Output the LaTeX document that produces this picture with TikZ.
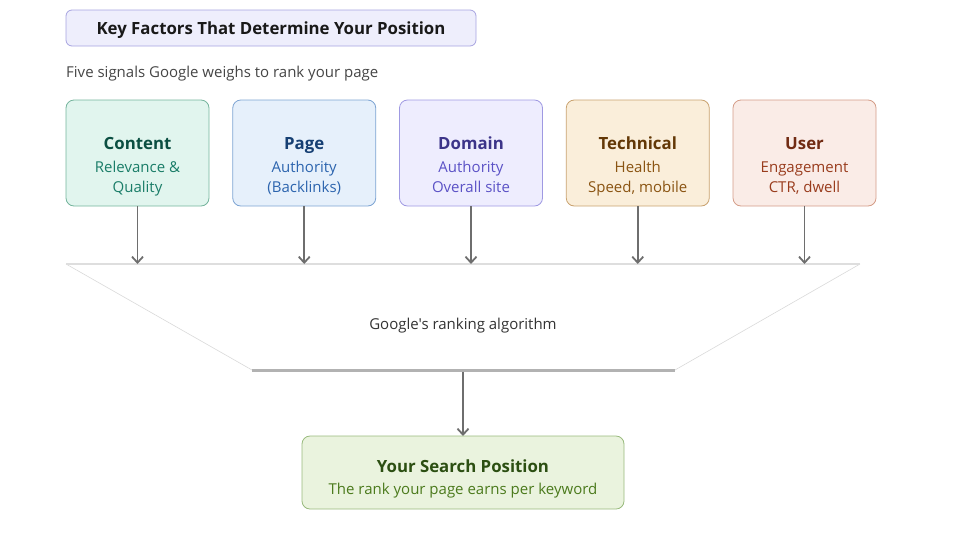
\documentclass[tikz,border=0pt]{standalone}
\usepackage{fontspec}
\setmainfont{Open Sans}[Ligatures=TeXOff]
\usetikzlibrary{positioning,arrows.meta}
\definecolor{titlefill}{HTML}{EEEEFC}
\definecolor{titledraw}{HTML}{A7A3E0}
\definecolor{arrgray}{HTML}{6E6E6E}
\definecolor{contentfill}{HTML}{E1F5EE}
\definecolor{contentdraw}{HTML}{74B49C}
\definecolor{contenthead}{HTML}{0B4F42}
\definecolor{contentsub}{HTML}{1A7D68}
\definecolor{pagefill}{HTML}{E6F0FB}
\definecolor{pagedraw}{HTML}{7DA4D3}
\definecolor{pagehead}{HTML}{163F73}
\definecolor{pagesub}{HTML}{2C64AE}
\definecolor{domainfill}{HTML}{EEEDFE}
\definecolor{domaindraw}{HTML}{9F99E2}
\definecolor{domainhead}{HTML}{3C3489}
\definecolor{domainsub}{HTML}{5B52C6}
\definecolor{techfill}{HTML}{FAEEDA}
\definecolor{techdraw}{HTML}{C9A26F}
\definecolor{techhead}{HTML}{633806}
\definecolor{techsub}{HTML}{8A5412}
\definecolor{userfill}{HTML}{FAECE7}
\definecolor{userdraw}{HTML}{D49C87}
\definecolor{userhead}{HTML}{712B13}
\definecolor{usersub}{HTML}{993C1D}
\definecolor{resultfill}{HTML}{EAF3DE}
\definecolor{resultdraw}{HTML}{98BA7C}
\definecolor{resulthead}{HTML}{2C4F12}
\definecolor{resultsub}{HTML}{4B7A1C}

\begin{document}
\begin{tikzpicture}[x=1pt, y=-1pt,
    box/.style={draw, rounded corners=8pt, minimum width=143pt, minimum height=106pt, line width=0.8pt, outer sep=0pt},
    head/.style={inner sep=0pt, text height=12pt, text depth=0pt, font=\fontsize{16.8}{20}\selectfont\bfseries},
    sub/.style={inner sep=0pt, align=center, font=\fontsize{15}{20}\selectfont},
    arr/.style={draw=arrgray, line width=1.8pt, -{Straight Barb[length=6pt,width=11pt]}}]
    \useasboundingbox (0,0) rectangle (974,555);

    % header
    \node[draw=titledraw, fill=titlefill, rounded corners=6pt, line width=0.8pt,
          minimum width=410pt, minimum height=36pt, text height=12pt, text depth=0pt, text=black!90,
          font=\fontsize{16.8}{20}\selectfont\bfseries] (title) at (271,28) {Key Factors That Determine Your Position};
    \node[anchor=west, inner sep=0pt, text=black!73, font=\fontsize{15}{18}\selectfont] (intro) at (66,73.5) {Five signals Google weighs to rank your page};

    % five signal boxes
    \node[box, fill=contentfill, draw=contentdraw] (content) at (137.5,153) {};
    \node[box, fill=pagefill, draw=pagedraw, right=23.75pt of content] (page) {};
    \node[box, fill=domainfill, draw=domaindraw, right=23.75pt of page] (domain) {};
    \node[box, fill=techfill, draw=techdraw, right=23.75pt of domain] (tech) {};
    \node[box, fill=userfill, draw=userdraw, right=23.75pt of tech] (user) {};

    \node[head, text=contenthead] (contentH) at ([yshift=10pt]content.center) {Content};
    \node[sub, text=contentsub] (contentS) at ([yshift=-26pt]content.center) {Relevance \&\\Quality};
    \node[head, text=pagehead] (pageH) at ([yshift=10pt]page.center) {Page};
    \node[sub, text=pagesub] (pageS) at ([yshift=-25pt]page.center) {Authority\\(Backlinks)};
    \node[head, text=domainhead] (domainH) at ([yshift=10pt]domain.center) {Domain};
    \node[sub, text=domainsub] (domainS) at ([yshift=-23.5pt]domain.center) {Authority\\Overall site};
    \node[head, text=techhead] (techH) at ([yshift=10pt]tech.center) {Technical};
    \node[sub, text=techsub] (techS) at ([yshift=-26pt]tech.center) {Health\\Speed, mobile};
    \node[head, text=userhead] (userH) at ([yshift=10pt]user.center) {User};
    \node[sub, text=usersub] (userS) at ([yshift=-25pt]user.center) {Engagement\\CTR, dwell};

    % funnel
    \coordinate (ftl) at (66,264);
    \coordinate (ftr) at (860,264);
    \coordinate (fbl) at (252,370);
    \coordinate (fbr) at (675,370);
    \draw[black!15, line width=0.6pt] (ftl) -- (fbl);
    \draw[black!15, line width=0.6pt] (ftr) -- (fbr);
    \draw[black!13, line width=1.8pt] (ftl) -- (ftr);
    \draw[black!30, line width=3pt] (fbl) -- (fbr);
    \node[inner sep=0pt, text=black!80, font=\fontsize{15}{18}\selectfont] (algo) at (463,325.5) {Google's ranking algorithm};

    \draw[arr] (content.south) -- (content.south |- ftl);
    \draw[arr] (page.south) -- (page.south |- ftl);
    \draw[arr] (domain.south) -- (domain.south |- ftl);
    \draw[arr] (tech.south) -- (tech.south |- ftl);
    \draw[arr] (user.south) -- (user.south |- ftl);

    % result
    \node[box, fill=resultfill, draw=resultdraw, minimum width=322pt, minimum height=73pt] (result) at (463,472.5) {};
    \node[head, text=resulthead] (resultH) at ([yshift=6.5pt]result.center) {Your Search Position};
    \node[sub, text=resultsub] (resultS) at ([yshift=-18.5pt]result.center) {The rank your page earns per keyword};
    \draw[arr] ([yshift=-1.5pt]result.north |- fbl) -- (result.north);
\end{tikzpicture}
\end{document}
